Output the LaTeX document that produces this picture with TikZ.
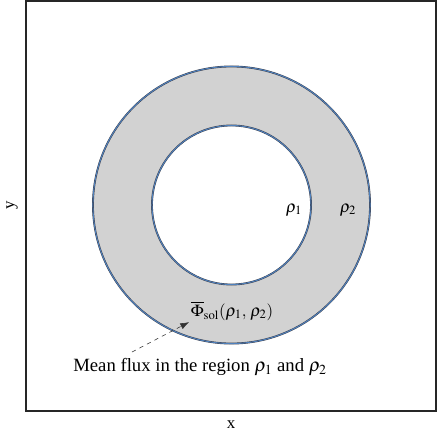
\documentclass[tikz,border=0pt]{standalone}
\usepackage{mathptmx}
\usepackage{fontspec}
\setmainfont{Liberation Serif}
\usetikzlibrary{arrows.meta,positioning}
\definecolor{ringblue}{RGB}{79,129,189}
\definecolor{ringedge}{RGB}{60,60,70}
\definecolor{ringfill}{RGB}{210,210,210}
\tikzset{
  >={Latex[length=2.2mm,width=1.6mm]},
  frame/.style={draw=black!85,line width=1.1pt},
  ring/.style={draw=ringedge,line width=1.3pt},
  ringline/.style={draw=ringblue,line width=0.7pt},
  lbl/.style={font=\fontsize{12}{14}\selectfont,inner sep=1pt},
  pointer/.style={->,dashed,thin,draw=black!80},
}
\begin{document}
\begin{tikzpicture}[x=0.025cm,y=-0.025cm]
    \useasboundingbox (0,0) rectangle (437,436);
    \draw[frame] (26,1) rectangle (436,411);
    % annulus
    \fill[ringfill,even odd rule] (231.5,205) circle (3.4625cm) (231.5,205) circle (1.9875cm);
    \draw[ring] (231.5,205) circle (3.4625cm);
    \draw[ringline] (231.5,205) circle (3.4625cm);
    \draw[ring] (231.5,205) circle (1.9875cm);
    \draw[ringline] (231.5,205) circle (1.9875cm);
    % labels
    \node[lbl] (rho1) at (294,210) {$\rho_1$};
    \node[lbl] (rho2) at (348,210) {$\rho_2$};
    \node[lbl] (flux) at (232,311) {$\overline{\Phi}_{\mathrm{sol}}(\rho_1,\,\rho_2)$};
    \node[lbl,font=\fontsize{13.3}{15}\selectfont] (note) at (200,367) {Mean flux in the region $\rho_1$ and $\rho_2$};
    \node[lbl] (xlab) at (231,425) {x};
    \node[lbl,rotate=90] (ylab) at (12,205) {y};
    \coordinate (tail) at (132,352);
    \draw[pointer] (tail) -- (flux.south west);
\end{tikzpicture}
\end{document}
